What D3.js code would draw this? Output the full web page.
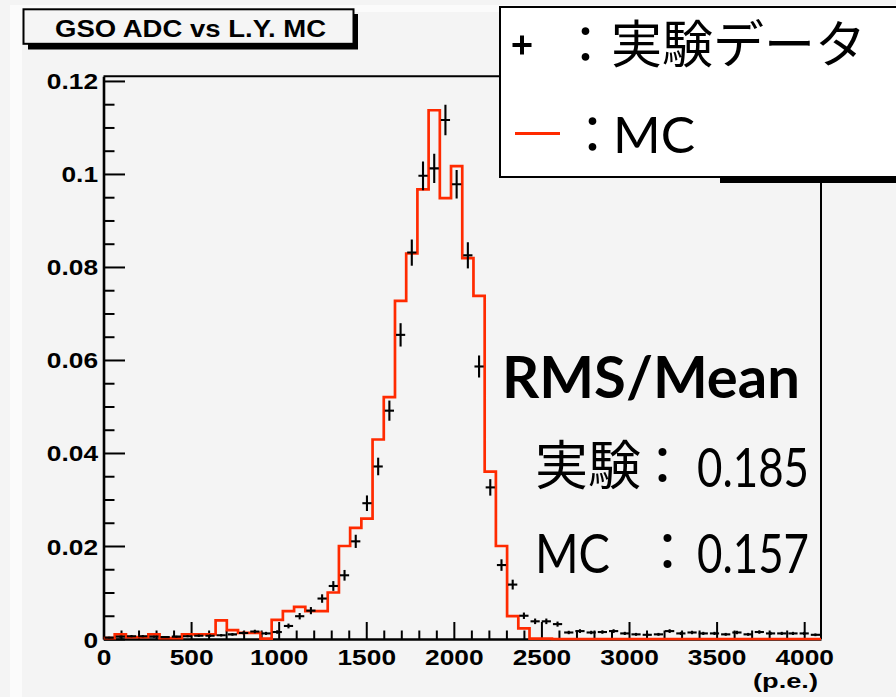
<!DOCTYPE html>
<html><head><meta charset="utf-8">
<script src="https://cdn.jsdelivr.net/npm/d3@7"></script>
<style>html,body{margin:0;padding:0;background:#f4f4f4;overflow:hidden}</style>
</head><body>
<svg id="c" width="896" height="697"></svg>
<script>
// ---------- data ----------
const chartTitle = "GSO ADC vs L.Y. MC";
const xDomain = [0, 4096];
const nBins = 64;
const yDomain = [0, 0.121];
const xTickValues = [0, 500, 1000, 1500, 2000, 2500, 3000, 3500, 4000];
const yTickValues = [0, 0.02, 0.04, 0.06, 0.08, 0.1, 0.12];
const yTickLabels = ["0", "0.02", "0.04", "0.06", "0.08", "0.1", "0.12"];
const xUnitLabel = "(p.e.)";
const dataValues = [
  0.0003,0.0005,0.0006,0.0006,0.0005,0.0004,0.0005,0.0006,0.0007,0.0007,
  0.0008,0.0010,0.0013,0.0016,0.0012,0.0015,0.0028,0.0049,0.0061,0.0087,
  0.0114,0.0137,0.0210,0.0292,0.0371,0.0491,0.0654,0.0831,0.0996,0.1012,
  0.1116,0.0978,0.0825,0.0586,0.0326,0.0159,0.0117,0.0050,0.0038,0.0038,
  0.0032,0.0014,0.0017,0.0014,0.0015,0.0017,0.0012,0.0010,0.0009,0.0010,
  0.0017,0.0012,0.0014,0.0012,0.0012,0.0010,0.0014,0.0010,0.0015,0.0012,
  0.0012,0.0012,0.0012,0.0009];
const dataErrors = [
  0.00017,0.00022,0.00024,0.00024,0.00022,0.0002,0.00022,0.00024,0.00026,0.00026,
  0.00028,0.00031,0.00035,0.00039,0.00034,0.00038,0.00052,0.00069,0.00077,0.00091,
  0.00105,0.00115,0.00142,0.00167,0.00189,0.00217,0.00251,0.00283,0.00309,0.00312,
  0.00327,0.00306,0.00281,0.00237,0.00177,0.00124,0.00106,0.00069,0.0006,0.0006,
  0.00055,0.00037,0.0004,0.00037,0.00038,0.0004,0.00034,0.00031,0.00029,0.00031,
  0.0004,0.00034,0.00037,0.00034,0.00034,0.00031,0.00037,0.00031,0.00038,0.00034,
  0.00034,0.00034,0.00034,0.00029];
const mcValues = [
  0.0002,0.0010,0.0004,0.0004,0.0010,0.0002,0.0002,0.0010,0.0010,0.0010,
  0.0040,0.0019,0.0013,0.0013,0.0001,0.0041,0.0060,0.0069,0.0060,0.0060,
  0.0100,0.0200,0.0239,0.0259,0.0429,0.0520,0.0727,0.0829,0.0967,0.1137,
  0.0948,0.1017,0.0819,0.0738,0.0360,0.0200,0.0049,0.0023,0.0001,0.0001,
  0,0,0,0,0,0,0,0,0,0,
  0,0,0,0,0,0,0,0,0,0,
  0,0,0,0];
const legendLabels = ["実験データ", "MC"];
const statsTitle = "RMS/Mean";
const statsNames = ["実験", "MC"];
const statsValues = ["0.185", "0.157"];

// ---------- layout ----------
const svg = d3.select("#c");
const L = 103.5, R = 821, T = 76.3, B = 639;
const x = d3.scaleLinear().domain(xDomain).range([L, R]);
const y = d3.scaleLinear().domain(yDomain).range([B, T]);
const binW = (xDomain[1] - xDomain[0]) / nBins;
const bins = d3.range(nBins).map(i => [xDomain[0] + i * binW, xDomain[0] + (i + 1) * binW]);
const RED = "#ff2a00";
const sansB = "'Liberation Sans', Arial, Helvetica, sans-serif";
const gill = "Lato, 'Noto Sans', sans-serif";
const cjk = "'Noto Sans CJK JP', 'Noto Sans CJK SC', sans-serif";
const STRETCH = 1.17;

// background canvas / pad border
svg.append("rect").attr("x", 0).attr("y", 0).attr("width", 896).attr("height", 697).attr("fill", "#f4f4f4");
svg.append("rect").attr("x", 10).attr("y", 5).attr("width", 886).attr("height", 692).attr("fill", "#fbfbfb");
svg.append("rect").attr("x", 22).attr("y", 12).attr("width", 874).attr("height", 685).attr("fill", "#f4f4f4");

// title box
svg.append("rect").attr("x", 28).attr("y", 14).attr("width", 330).attr("height", 35.5).attr("fill", "#000");
svg.append("rect").attr("x", 23.5).attr("y", 9.3).attr("width", 330).attr("height", 34.5)
  .attr("fill", "#f5f5f5").attr("stroke", "#000").attr("stroke-width", 2);
svg.append("text").attr("x", 190.5).attr("y", 36.8).attr("text-anchor", "middle")
  .attr("font-family", sansB).attr("font-weight", "bold").attr("font-size", 23).text(chartTitle)
  .attr("textLength", 271).attr("lengthAdjust", "spacingAndGlyphs");

// frame
svg.append("path").attr("d", `M${L},${T}H${R}V${B}`).attr("fill", "none").attr("stroke", "#000").attr("stroke-width", 2);

// minor ticks
const xMinor = d3.range(0, 4001, 100).filter(v => v % 500 !== 0);
const yMinor = d3.range(0, 0.1201, 0.005).filter(v => Math.abs(v / 0.02 - Math.round(v / 0.02)) > 1e-6);
svg.append("g").attr("transform", `translate(0,${B})`)
  .call(d3.axisBottom(x).tickValues(xMinor).tickSize(-8.5).tickSizeOuter(0).tickFormat(""))
  .call(g => g.select(".domain").remove())
  .selectAll("line").attr("stroke", "#000").attr("stroke-width", 2);
svg.append("g").attr("transform", `translate(${L},0)`)
  .call(d3.axisLeft(y).tickValues(yMinor).tickSize(-11).tickSizeOuter(0).tickFormat(""))
  .call(g => g.select(".domain").remove())
  .selectAll("line").attr("stroke", "#000").attr("stroke-width", 2);

// major x axis
const gx = svg.append("g").attr("transform", `translate(0,${B})`)
  .call(d3.axisBottom(x).tickValues(xTickValues).tickSize(-17).tickSizeOuter(0).tickPadding(0).tickFormat(d3.format("d")));
gx.select(".domain").attr("stroke", "#000").attr("stroke-width", 2.6);
gx.selectAll(".tick line").attr("stroke", "#000").attr("stroke-width", 2);
gx.selectAll(".tick text").attr("fill", "#000").attr("font-family", sansB).attr("font-weight", "bold")
  .attr("font-size", 22.5).attr("y", 26).attr("dy", 0).attr("transform", `scale(${STRETCH},1)`);

// major y axis
const gy = svg.append("g").attr("transform", `translate(${L},0)`)
  .call(d3.axisLeft(y).tickValues(yTickValues).tickSize(-21.5).tickSizeOuter(0).tickPadding(0)
    .tickFormat((d, i) => yTickLabels[i]));
gy.select(".domain").attr("stroke", "#000").attr("stroke-width", 2.6);
gy.selectAll(".tick line").attr("stroke", "#000").attr("stroke-width", 2);
gy.selectAll(".tick text").attr("fill", "#000").attr("font-family", sansB).attr("font-weight", "bold")
  .attr("font-size", 22.5).attr("x", -5.5 / STRETCH).attr("dy", 8).attr("transform", `scale(${STRETCH},1)`);

// x unit
svg.append("text").attr("x", 818).attr("y", 688).attr("text-anchor", "end")
  .attr("font-family", sansB).attr("font-weight", "bold").attr("font-size", 21).text(xUnitLabel)
  .attr("textLength", 65).attr("lengthAdjust", "spacingAndGlyphs");

// plot clip
svg.append("clipPath").attr("id", "clip").append("rect").attr("x", L).attr("y", T - 2).attr("width", R - L).attr("height", B - T + 4);
const plot = svg.append("g").attr("clip-path", "url(#clip)");

// MC histogram (step outline)
let d = "";
bins.forEach((b, i) => {
  const yy = y(mcValues[i]);
  d += (i === 0 ? `M${x(b[0])},${yy}` : `V${yy}`) + `H${x(b[1])}`;
});
plot.append("path").attr("d", d).attr("fill", "none").attr("stroke", RED).attr("stroke-width", 2.7)
  .attr("stroke-linejoin", "miter");

// data points with error bars
const pts = plot.append("g").attr("stroke", "#000").attr("stroke-width", 2.1);
bins.forEach((b, i) => {
  const cx = x((b[0] + b[1]) / 2), cy = y(dataValues[i]);
  pts.append("line").attr("x1", x(b[0]) + 1).attr("x2", x(b[1]) - 1).attr("y1", cy).attr("y2", cy);
  pts.append("line").attr("x1", cx).attr("x2", cx)
    .attr("y1", y(dataValues[i] + dataErrors[i])).attr("y2", y(dataValues[i] - dataErrors[i]));
});

// legend
svg.append("rect").attr("x", 720).attr("y", 176).attr("width", 200).attr("height", 7).attr("fill", "#000");
svg.append("rect").attr("x", 500).attr("y", 7).attr("width", 420).attr("height", 170)
  .attr("fill", "#fff").attr("stroke", "#000").attr("stroke-width", 2);
svg.append("path").attr("d", "M512.5,45H531.5M522,35.5V54.5").attr("stroke", "#000").attr("stroke-width", 4);
svg.append("text").attr("x", 560).attr("y", 63).attr("font-family", cjk).attr("font-size", 51)
  .attr("fill", "#000").text("：" + legendLabels[0]);
svg.append("line").attr("x1", 515).attr("x2", 560).attr("y1", 133.5).attr("y2", 133.5).attr("stroke", RED).attr("stroke-width", 2.8);
svg.append("text").attr("x", 567).attr("y", 153).attr("font-family", cjk).attr("font-size", 51)
  .attr("fill", "#000").text("：");
svg.append("text").attr("x", 613).attr("y", 153).attr("font-family", gill).attr("font-size", 50)
  .attr("fill", "#000").text(legendLabels[1]).attr("textLength", 82).attr("lengthAdjust", "spacingAndGlyphs");

// stats text
svg.append("text").attr("x", 502).attr("y", 398).attr("font-family", gill).attr("font-weight", "bold")
  .attr("font-size", 57).attr("fill", "#000").text(statsTitle).attr("textLength", 298).attr("lengthAdjust", "spacingAndGlyphs");
const rowY = [487, 573];
const colonX = [636, 641];
statsNames.forEach((n, i) => {
  if (i === 0) {
    svg.append("text").attr("x", 535).attr("y", rowY[i] - 2).attr("font-family", cjk).attr("font-size", 53)
      .attr("fill", "#000").text(n);
  } else {
    svg.append("text").attr("x", 535).attr("y", rowY[i]).attr("font-family", gill).attr("font-size", 55)
      .attr("fill", "#000").text(n).attr("textLength", 75).attr("lengthAdjust", "spacingAndGlyphs");
  }
  svg.append("text").attr("x", colonX[i]).attr("y", rowY[i] - 2).attr("font-family", cjk).attr("font-size", 53)
    .attr("fill", "#000").text("：");
  svg.append("text").attr("x", 697).attr("y", rowY[i]).attr("font-family", gill).attr("font-size", 55)
    .attr("fill", "#000").text(statsValues[i]).attr("textLength", 112).attr("lengthAdjust", "spacingAndGlyphs");
});
</script>
</body></html>
